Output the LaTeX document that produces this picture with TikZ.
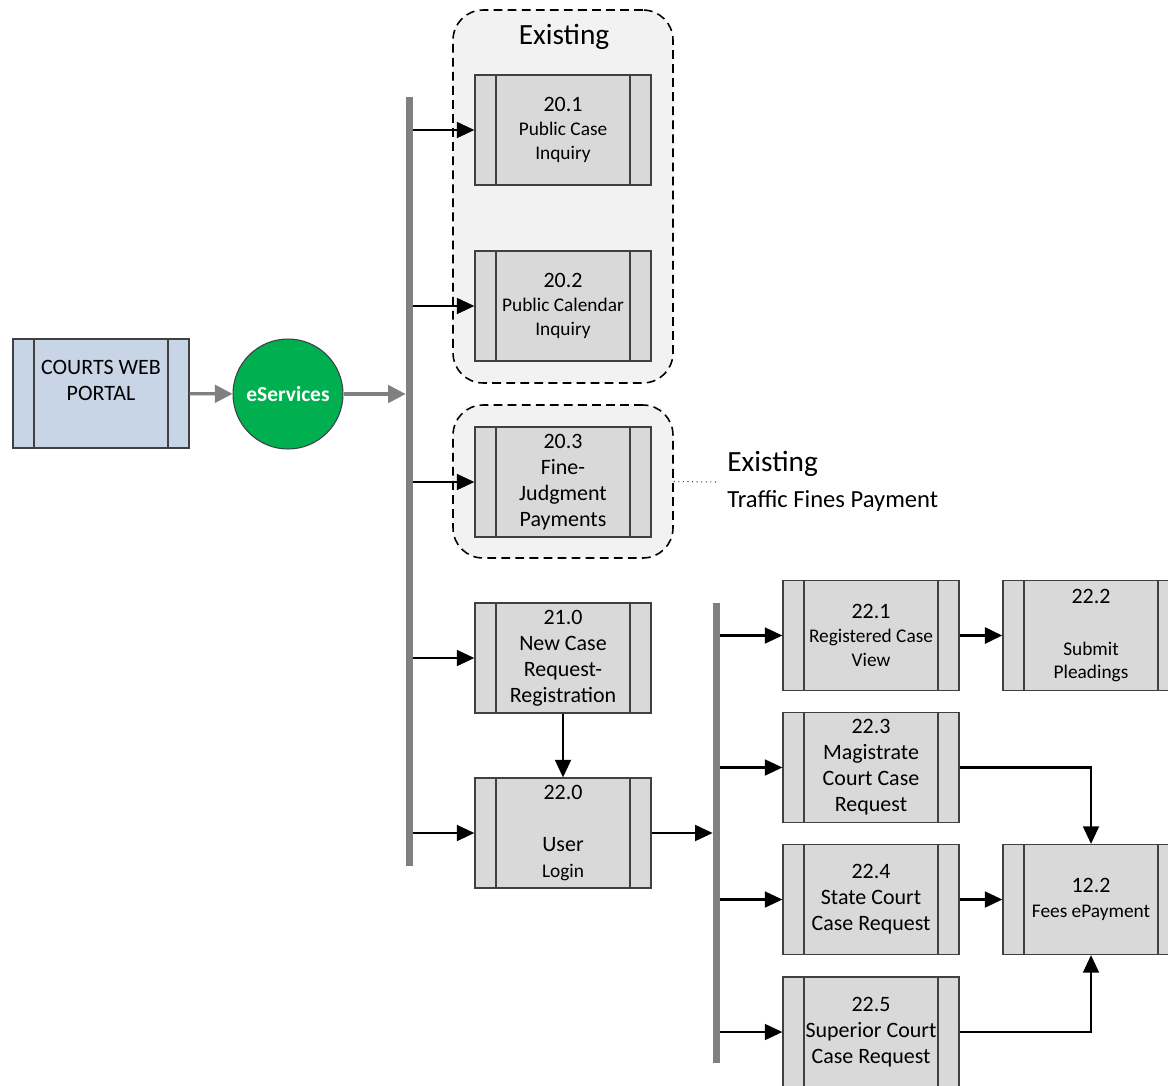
\documentclass[tikz,border=0pt]{standalone}
\usepackage{fontspec}
\setmainfont{Carlito}
\usetikzlibrary{arrows.meta,positioning}

\definecolor{procgray}{HTML}{D9D9D9}
\definecolor{portalblue}{HTML}{C7D5E6}
\definecolor{grpgray}{HTML}{F2F2F2}
\definecolor{bargray}{HTML}{808080}
\definecolor{esgreen}{HTML}{00B050}
\definecolor{edgegray}{HTML}{404040}

\newcommand{\sm}{\fontsize{11}{13.5}\selectfont}

\tikzset{
    proc/.style={draw=edgegray, line width=0.7pt, fill=procgray, minimum width=3.52cm, minimum height=2.2cm,
        inner sep=0pt, align=center, font=\fontsize{12.5}{14.8}\selectfont,
        path picture={
            \draw [edgegray, line width=0.7pt] ([xshift=0.42cm]path picture bounding box.south west) -- ([xshift=0.42cm]path picture bounding box.north west);
            \draw [edgegray, line width=0.7pt] ([xshift=-0.42cm]path picture bounding box.south east) -- ([xshift=-0.42cm]path picture bounding box.north east);
        }},
    portal/.style={proc, fill=portalblue, minimum height=2.18cm},
    grp/.style={draw=black, dash pattern=on 5pt off 3pt, line width=0.9pt, fill=grpgray, rounded corners=0.6cm, inner sep=0pt},
    bar/.style={fill=bargray, minimum width=0.14cm, inner sep=0pt},
    flow/.style={black, line width=1.4pt, -{Triangle[length=10pt,width=9pt]}},
    feed/.style={bargray, line width=1.8pt, -{Triangle[length=10pt,width=10pt]}}
}

\begin{document}
\begin{tikzpicture}[x=0.02cm, y=-0.02cm]
        \useasboundingbox (0,0) rectangle (1168,1085);

        % existing groups
        \node [grp, minimum width=4.4cm, minimum height=7.46cm] (grp1) at (563,196.5) {};
        \node [grp, minimum width=4.4cm, minimum height=3.06cm] (grp2) at (563,481.5) {};
        \node [inner sep=0pt, font=\fontsize{16.7}{19}\selectfont] (exist1) at (564,37) {Existing};
        \node [inner sep=0pt, anchor=west, font=\fontsize{16.7}{19}\selectfont] (exist2) at (727,464) {Existing};
        \node [inner sep=0pt, anchor=west, font=\fontsize{14}{16}\selectfont] (traffic) at (727,501) {Traffic Fines Payment};
        \coordinate (dotend) at (718,482);
        \draw [edgegray, dotted, line width=0.6pt] (grp2.east) to (dotend);

        \node [portal] (portal) at (101,393.5) {COURTS WEB\\PORTAL\\[-4.6pt]\strut};
        \node [circle, draw=edgegray, line width=0.6pt, fill=esgreen, minimum size=2.2cm, inner sep=0pt,
               text=white, font=\bfseries\fontsize{12.2}{14}\selectfont] (es) at (288,394) {eServices};

        \node [bar, minimum height=15.38cm] (bar1) at (409.5,481.5) {};
        \node [bar, minimum height=9.2cm] (bar2) at (716.5,833) {};

        \node [proc] (b201) at (563,130) {20.1\\[-1pt]{\sm Public Case}\\[-1.2pt]{\sm Inquiry}};
        \node [proc] (b202) at (563,306) {20.2\\[-1pt]{\sm Public Calendar}\\[-1.2pt]{\sm Inquiry}};
        \node [proc] (b203) at (563,482) {20.3\\Fine-\\Judgment\\Payments};
        \node [proc] (b210) at (563,658) {21.0\\New Case\\Request-\\Registration};
        \node [proc] (b220) at (563,833) {22.0\\\strut\\User\\{\sm Login}};

        \node [proc] (b221) at (871,635.5) {22.1\\[-1pt]{\sm Registered Case}\\[-1.2pt]{\sm View}};
        \node [proc] (b223) at (871,767.5) {22.3\\Magistrate\\Court Case\\Request};
        \node [proc] (b224) at (871,899.5) {22.4\\State Court\\Case Request};
        \node [proc] (b225) at (871,1032) {22.5\\Superior Court\\Case Request};

        \node [proc] (b222) at (1091,635.5) {22.2\\\strut\\{\sm Submit}\\[-1.2pt]{\sm Pleadings}};
        \node [proc] (b122) at (1091,899.5) {12.2\\[-1pt]{\sm Fees ePayment}};

        \draw [feed] (portal) to (es);
        \draw [feed] (es.east) to (es.east -| bar1.west);

        \foreach \b in {b201,b202,b203,b210,b220}
            \draw [flow] (bar1.east |- \b.west) to (\b.west);
        \draw [flow] (b210) to (b220);
        \draw [flow] (b220.east) to (b220.east -| bar2.west);

        \foreach \b in {b221,b223,b224,b225}
            \draw [flow] (bar2.east |- \b.west) to (\b.west);
        \draw [flow, line width=2pt] (b221) to (b222);
        \draw [flow] (b223.east) -| (b122.north);
        \draw [flow] (b224) to (b122);
        \draw [flow] (b225.east) -| (b122.south);
    \end{tikzpicture}
\end{document}
